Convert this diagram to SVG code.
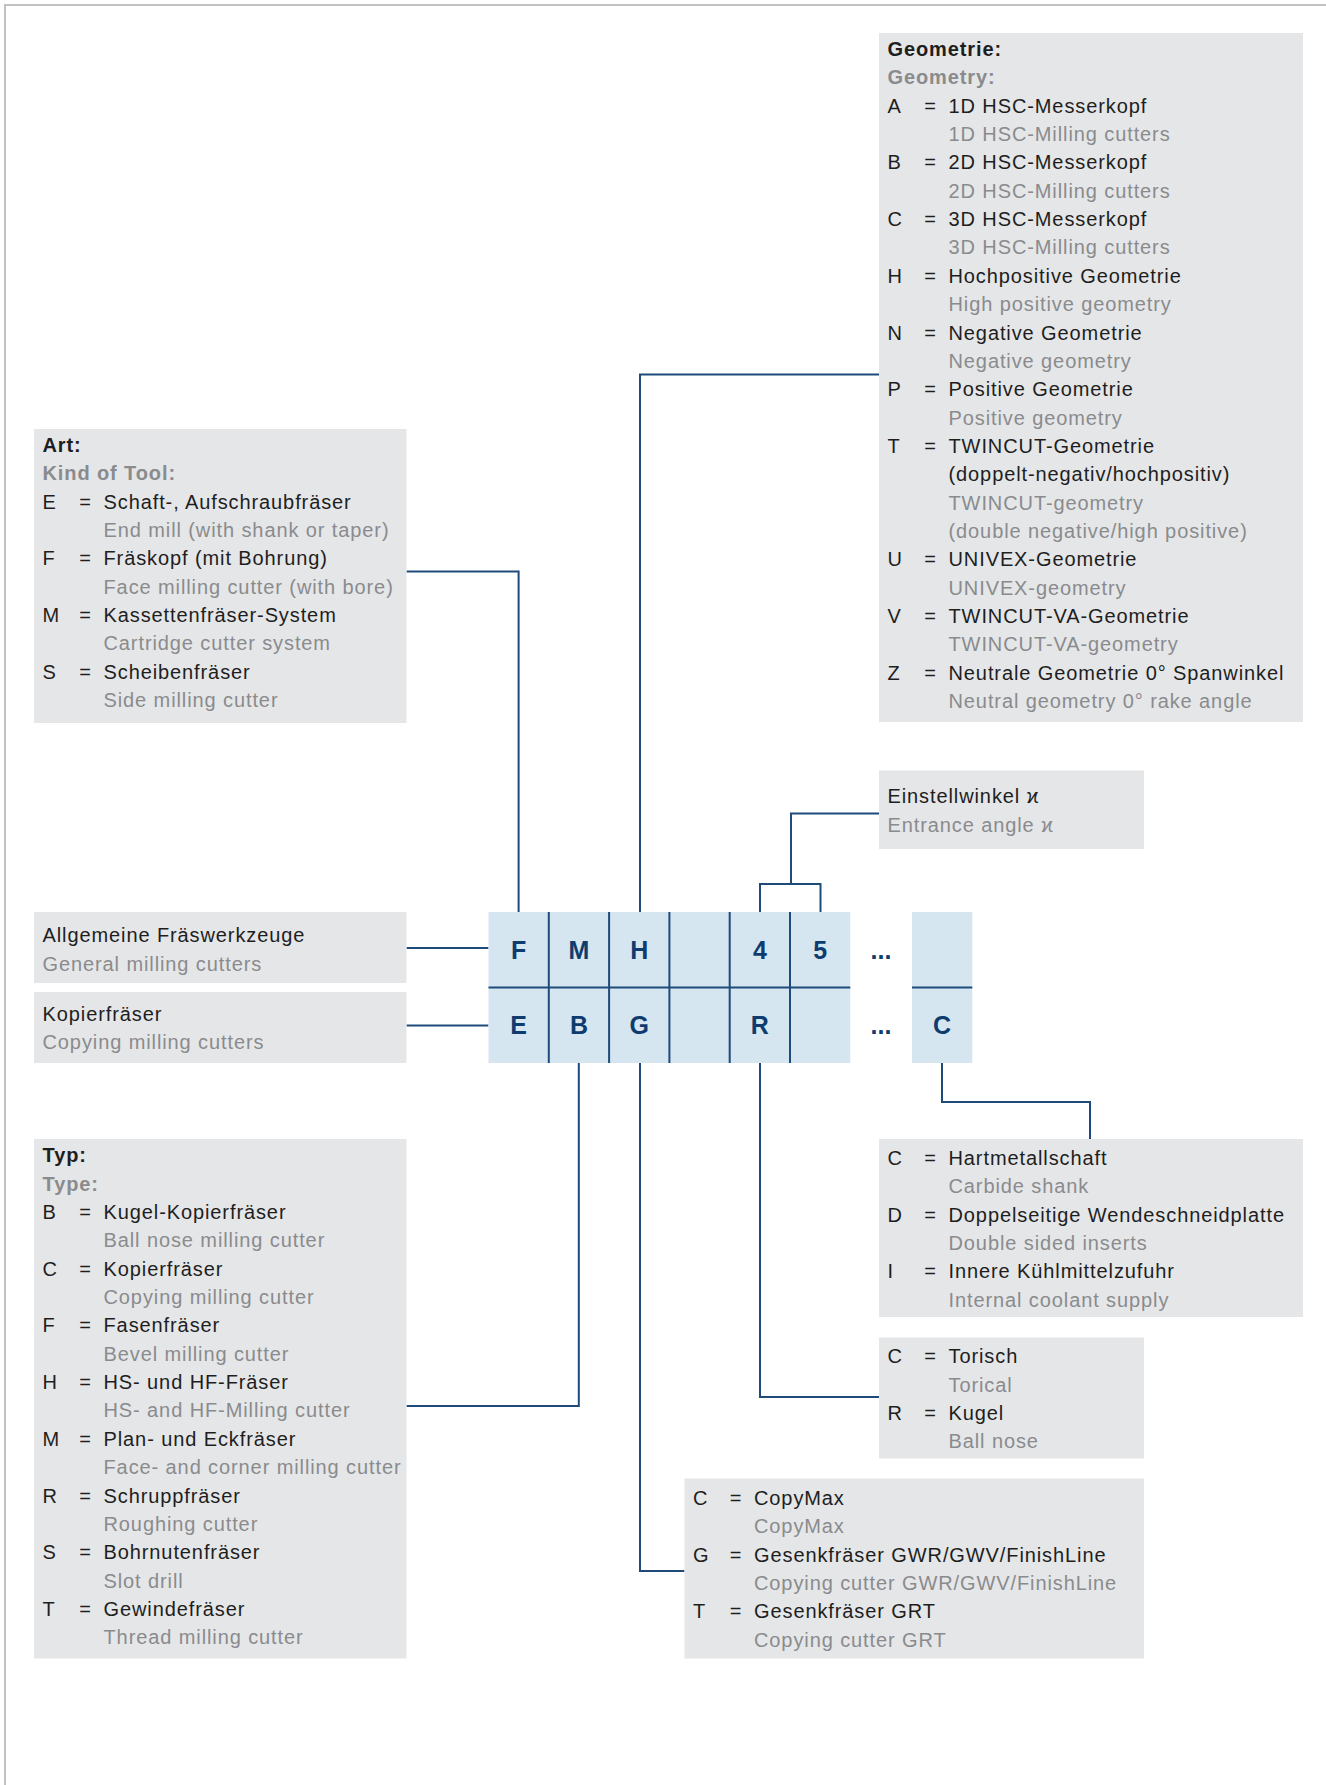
<svg xmlns="http://www.w3.org/2000/svg" width="1326" height="1785" viewBox="0 0 1326 1785">
<style>
.bx{fill:#e5e6e8}
.t{font-family:"Liberation Sans",Arial,Helvetica,sans-serif;font-size:20px;letter-spacing:0.9px}
.k{fill:#1e1e1e}
.g{fill:#8a8b8d}
.b{font-weight:bold}
.eq{text-anchor:middle;letter-spacing:0}
.cell{fill:#d5e6f0}
.gl{stroke:#1f4b7b;stroke-width:2;fill:none}
.gt{font-family:"Liberation Sans",Arial,Helvetica,sans-serif;font-size:25px;font-weight:bold;fill:#0f3c6e;text-anchor:middle}
.con{stroke:#1f4b7b;stroke-width:2;fill:none}
</style>
<rect width="1326" height="1785" fill="#ffffff"/>
<path d="M5,1785 V5 H1326" stroke="#c2c2c2" stroke-width="2" fill="none"/>

<g id="connectors">
<path class="con" d="M406.5,571.5 H518.6 V912"/>
<path class="con" d="M879,374.5 H640 V912"/>
<path class="con" d="M879,813.5 H791 V884"/>
<path class="con" d="M760,912 V884 H820.5 V912"/>
<path class="con" d="M406.5,948 H488.5"/>
<path class="con" d="M406.5,1025.5 H488.5"/>
<path class="con" d="M578.8,1063 V1406 H406.5"/>
<path class="con" d="M640,1063 V1571 H684.5"/>
<path class="con" d="M760,1063 V1397 H879"/>
<path class="con" d="M942,1063 V1102 H1090 V1139"/>
</g>

<g id="code-grid">
<rect class="cell" x="488.5" y="912" width="361.8" height="151"/>
<rect class="cell" x="912" y="912" width="60.3" height="151"/>
<path class="gl" d="M548.8,912 V1063 M609.1,912 V1063 M669.4,912 V1063 M729.7,912 V1063 M790,912 V1063 M488.5,987.5 H850.3 M912,987.5 H972.3"/>
<text class="gt" x="518.65" y="958.5">F</text>
<text class="gt" x="578.95" y="958.5">M</text>
<text class="gt" x="639.25" y="958.5">H</text>
<text class="gt" x="759.85" y="958.5">4</text>
<text class="gt" x="820.15" y="958.5">5</text>
<text class="gt" x="881" y="958.5">...</text>
<text class="gt" x="518.65" y="1033.5">E</text>
<text class="gt" x="578.95" y="1033.5">B</text>
<text class="gt" x="639.25" y="1033.5">G</text>
<text class="gt" x="759.85" y="1033.5">R</text>
<text class="gt" x="881" y="1033.5">...</text>
<text class="gt" x="942.15" y="1033.5">C</text>
</g>

<g id="geometry" class="t">
<rect class="bx" x="879" y="33" width="424" height="689"/>
<text class="k b" x="887.5" y="56">Geometrie:</text>
<text class="g b" x="887.5" y="84.35">Geometry:</text>
<text class="k" x="887.5" y="112.7">A</text><text class="k eq" x="930" y="112.7">=</text><text class="k" x="948.5" y="112.7">1D HSC-Messerkopf</text>
<text class="g" x="948.5" y="141.05">1D HSC-Milling cutters</text>
<text class="k" x="887.5" y="169.4">B</text><text class="k eq" x="930" y="169.4">=</text><text class="k" x="948.5" y="169.4">2D HSC-Messerkopf</text>
<text class="g" x="948.5" y="197.75">2D HSC-Milling cutters</text>
<text class="k" x="887.5" y="226.1">C</text><text class="k eq" x="930" y="226.1">=</text><text class="k" x="948.5" y="226.1">3D HSC-Messerkopf</text>
<text class="g" x="948.5" y="254.45">3D HSC-Milling cutters</text>
<text class="k" x="887.5" y="282.8">H</text><text class="k eq" x="930" y="282.8">=</text><text class="k" x="948.5" y="282.8">Hochpositive Geometrie</text>
<text class="g" x="948.5" y="311.15">High positive geometry</text>
<text class="k" x="887.5" y="339.5">N</text><text class="k eq" x="930" y="339.5">=</text><text class="k" x="948.5" y="339.5">Negative Geometrie</text>
<text class="g" x="948.5" y="367.85">Negative geometry</text>
<text class="k" x="887.5" y="396.2">P</text><text class="k eq" x="930" y="396.2">=</text><text class="k" x="948.5" y="396.2">Positive Geometrie</text>
<text class="g" x="948.5" y="424.55">Positive geometry</text>
<text class="k" x="887.5" y="452.9">T</text><text class="k eq" x="930" y="452.9">=</text><text class="k" x="948.5" y="452.9">TWINCUT-Geometrie</text>
<text class="k" x="948.5" y="481.25">(doppelt-negativ/hochpositiv)</text>
<text class="g" x="948.5" y="509.6">TWINCUT-geometry</text>
<text class="g" x="948.5" y="537.95">(double negative/high positive)</text>
<text class="k" x="887.5" y="566.3">U</text><text class="k eq" x="930" y="566.3">=</text><text class="k" x="948.5" y="566.3">UNIVEX-Geometrie</text>
<text class="g" x="948.5" y="594.65">UNIVEX-geometry</text>
<text class="k" x="887.5" y="623">V</text><text class="k eq" x="930" y="623">=</text><text class="k" x="948.5" y="623">TWINCUT-VA-Geometrie</text>
<text class="g" x="948.5" y="651.35">TWINCUT-VA-geometry</text>
<text class="k" x="887.5" y="679.7">Z</text><text class="k eq" x="930" y="679.7">=</text><text class="k" x="948.5" y="679.7">Neutrale Geometrie 0° Spanwinkel</text>
<text class="g" x="948.5" y="708.05">Neutral geometry 0° rake angle</text>
</g>

<g id="art" class="t">
<rect class="bx" x="34" y="429" width="372.5" height="294"/>
<text class="k b" x="42.5" y="452">Art:</text>
<text class="g b" x="42.5" y="480.35">Kind of Tool:</text>
<text class="k" x="42.5" y="508.7">E</text><text class="k eq" x="85" y="508.7">=</text><text class="k" x="103.5" y="508.7">Schaft-, Aufschraubfräser</text>
<text class="g" x="103.5" y="537.05">End mill (with shank or taper)</text>
<text class="k" x="42.5" y="565.4">F</text><text class="k eq" x="85" y="565.4">=</text><text class="k" x="103.5" y="565.4">Fräskopf (mit Bohrung)</text>
<text class="g" x="103.5" y="593.75">Face milling cutter (with bore)</text>
<text class="k" x="42.5" y="622.1">M</text><text class="k eq" x="85" y="622.1">=</text><text class="k" x="103.5" y="622.1">Kassettenfräser-System</text>
<text class="g" x="103.5" y="650.45">Cartridge cutter system</text>
<text class="k" x="42.5" y="678.8">S</text><text class="k eq" x="85" y="678.8">=</text><text class="k" x="103.5" y="678.8">Scheibenfräser</text>
<text class="g" x="103.5" y="707.15">Side milling cutter</text>
</g>

<g id="einstellwinkel" class="t">
<rect class="bx" x="879" y="770.5" width="265" height="78.5"/>
<text class="k" x="887.5" y="803.3">Einstellwinkel ϰ</text>
<text class="g" x="887.5" y="831.7">Entrance angle ϰ</text>
</g>

<g id="allgemeine" class="t">
<rect class="bx" x="34" y="912" width="372.5" height="71"/>
<text class="k" x="42.5" y="942.3">Allgemeine Fräswerkzeuge</text>
<text class="g" x="42.5" y="970.5">General milling cutters</text>
</g>

<g id="kopierfraeser" class="t">
<rect class="bx" x="34" y="992" width="372.5" height="71"/>
<text class="k" x="42.5" y="1020.7">Kopierfräser</text>
<text class="g" x="42.5" y="1049">Copying milling cutters</text>
</g>

<g id="typ" class="t">
<rect class="bx" x="34" y="1139" width="372.5" height="519.5"/>
<text class="k b" x="42.5" y="1162.3">Typ:</text>
<text class="g b" x="42.5" y="1190.65">Type:</text>
<text class="k" x="42.5" y="1219">B</text><text class="k eq" x="85" y="1219">=</text><text class="k" x="103.5" y="1219">Kugel-Kopierfräser</text>
<text class="g" x="103.5" y="1247.35">Ball nose milling cutter</text>
<text class="k" x="42.5" y="1275.7">C</text><text class="k eq" x="85" y="1275.7">=</text><text class="k" x="103.5" y="1275.7">Kopierfräser</text>
<text class="g" x="103.5" y="1304.05">Copying milling cutter</text>
<text class="k" x="42.5" y="1332.4">F</text><text class="k eq" x="85" y="1332.4">=</text><text class="k" x="103.5" y="1332.4">Fasenfräser</text>
<text class="g" x="103.5" y="1360.75">Bevel milling cutter</text>
<text class="k" x="42.5" y="1389.1">H</text><text class="k eq" x="85" y="1389.1">=</text><text class="k" x="103.5" y="1389.1">HS- und HF-Fräser</text>
<text class="g" x="103.5" y="1417.45">HS- and HF-Milling cutter</text>
<text class="k" x="42.5" y="1445.8">M</text><text class="k eq" x="85" y="1445.8">=</text><text class="k" x="103.5" y="1445.8">Plan- und Eckfräser</text>
<text class="g" x="103.5" y="1474.15">Face- and corner milling cutter</text>
<text class="k" x="42.5" y="1502.5">R</text><text class="k eq" x="85" y="1502.5">=</text><text class="k" x="103.5" y="1502.5">Schruppfräser</text>
<text class="g" x="103.5" y="1530.85">Roughing cutter</text>
<text class="k" x="42.5" y="1559.2">S</text><text class="k eq" x="85" y="1559.2">=</text><text class="k" x="103.5" y="1559.2">Bohrnutenfräser</text>
<text class="g" x="103.5" y="1587.55">Slot drill</text>
<text class="k" x="42.5" y="1615.9">T</text><text class="k eq" x="85" y="1615.9">=</text><text class="k" x="103.5" y="1615.9">Gewindefräser</text>
<text class="g" x="103.5" y="1644.25">Thread milling cutter</text>
</g>

<g id="schaft" class="t">
<rect class="bx" x="879" y="1139" width="424" height="178"/>
<text class="k" x="887.5" y="1165">C</text><text class="k eq" x="930" y="1165">=</text><text class="k" x="948.5" y="1165">Hartmetallschaft</text>
<text class="g" x="948.5" y="1193.35">Carbide shank</text>
<text class="k" x="887.5" y="1221.7">D</text><text class="k eq" x="930" y="1221.7">=</text><text class="k" x="948.5" y="1221.7">Doppelseitige Wendeschneidplatte</text>
<text class="g" x="948.5" y="1250.05">Double sided inserts</text>
<text class="k" x="887.5" y="1278.4">I</text><text class="k eq" x="930" y="1278.4">=</text><text class="k" x="948.5" y="1278.4">Innere Kühlmittelzufuhr</text>
<text class="g" x="948.5" y="1306.75">Internal coolant supply</text>
</g>

<g id="form" class="t">
<rect class="bx" x="879" y="1337.5" width="265" height="121"/>
<text class="k" x="887.5" y="1363.3">C</text><text class="k eq" x="930" y="1363.3">=</text><text class="k" x="948.5" y="1363.3">Torisch</text>
<text class="g" x="948.5" y="1391.65">Torical</text>
<text class="k" x="887.5" y="1420">R</text><text class="k eq" x="930" y="1420">=</text><text class="k" x="948.5" y="1420">Kugel</text>
<text class="g" x="948.5" y="1448.35">Ball nose</text>
</g>

<g id="copymax" class="t">
<rect class="bx" x="684.5" y="1478.5" width="459.5" height="180"/>
<text class="k" x="693" y="1505">C</text><text class="k eq" x="735.5" y="1505">=</text><text class="k" x="754" y="1505">CopyMax</text>
<text class="g" x="754" y="1533.35">CopyMax</text>
<text class="k" x="693" y="1561.7">G</text><text class="k eq" x="735.5" y="1561.7">=</text><text class="k" x="754" y="1561.7">Gesenkfräser GWR/GWV/FinishLine</text>
<text class="g" x="754" y="1590.05">Copying cutter GWR/GWV/FinishLine</text>
<text class="k" x="693" y="1618.4">T</text><text class="k eq" x="735.5" y="1618.4">=</text><text class="k" x="754" y="1618.4">Gesenkfräser GRT</text>
<text class="g" x="754" y="1646.75">Copying cutter GRT</text>
</g>
</svg>
